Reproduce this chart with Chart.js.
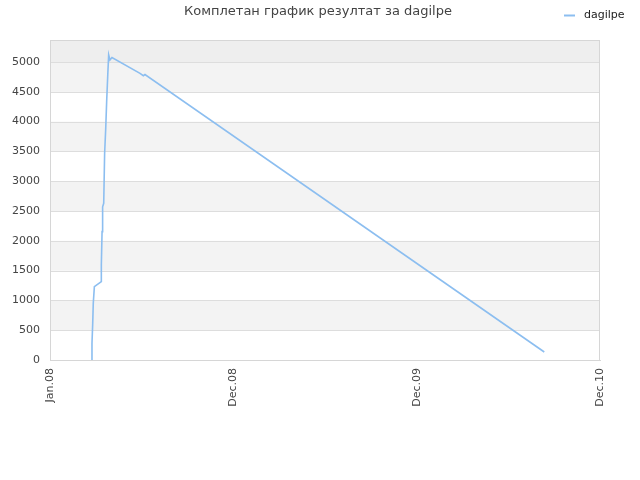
<!DOCTYPE html>
<html>
<head>
<meta charset="utf-8">
<script src="https://cdn.jsdelivr.net/npm/chart.js@4.4.1/dist/chart.umd.min.js"></script>
<style>
  html, body { margin: 0; padding: 0; background: #fff; }
  #wrap { width: 640px; height: 480px; }
</style>
</head>
<body>
<div id="wrap"><canvas id="chart" width="640" height="480"></canvas></div>
<script>
const chartTitle = 'Комплетан график резултат за dagilpe';
const seriesName = 'dagilpe';
const xTickLabels = ['Jan.08', 'Dec.08', 'Dec.09', 'Dec.10'];

// x is position along the date axis, 0 = Jan.08 ... 3 = Dec.10
const xValues = [0.229, 0.229, 0.233, 0.236, 0.242, 0.245, 0.280, 0.280, 0.284, 0.287, 0.293,
                 0.298, 0.304, 0.309, 0.315, 0.320, 0.327, 0.338, 0.491, 0.509, 0.518, 2.696];
const scores = [0, 280, 615, 950, 1230, 1230, 1315, 1595, 2155, 2570, 2630,
                3470, 3890, 4335, 4780, 5120, 5035, 5075, 4810, 4770, 4790, 134];

const lineColor = 'rgba(140, 190, 240, 1)';
const font = 'DejaVu Sans';

const points = xValues.map((x, i) => ({ x, y: scores[i] }));

const bands = {
    id: 'bands',
    beforeDatasetsDraw(chart) {
        const { ctx, chartArea: a, scales: { y } } = chart;
        ctx.save();
        ctx.fillStyle = '#fff';
        ctx.fillRect(a.left, a.top, a.width, a.height);
        for (let v = 0; v < 5000; v += 500) {
            if ((v / 500) % 2 === 1) {
                const top = y.getPixelForValue(v + 500);
                const bot = y.getPixelForValue(v);
                ctx.fillStyle = '#f3f3f3';
                ctx.fillRect(a.left, top, a.width, bot - top);
            }
        }
        const t5 = y.getPixelForValue(5000);
        ctx.fillStyle = '#eeeeee';
        ctx.fillRect(a.left, a.top, a.width, t5 - a.top);
        // grid lines
        ctx.strokeStyle = '#dddddd';
        ctx.lineWidth = 1;
        for (let v = 500; v <= 5000; v += 500) {
            const p = Math.round(y.getPixelForValue(v)) + 0.5;
            ctx.beginPath();
            ctx.moveTo(a.left, p);
            ctx.lineTo(a.right, p);
            ctx.stroke();
        }
        ctx.strokeStyle = '#d6d6d6';
        ctx.strokeRect(a.left + 0.5, a.top + 0.5, a.width - 1, a.height);
        ctx.restore();
    },
    afterDraw(chart) {
        const { ctx } = chart;
        ctx.save();
        ctx.font = '13px "' + font + '"';
        ctx.fillStyle = '#444';
        ctx.textAlign = 'center';
        ctx.textBaseline = 'middle';
        ctx.fillText(chartTitle, 318, 12);
        ctx.strokeStyle = lineColor;
        ctx.lineWidth = 2;
        ctx.beginPath();
        ctx.moveTo(564, 15.5);
        ctx.lineTo(575, 15.5);
        ctx.stroke();
        ctx.font = '11px "' + font + '"';
        ctx.fillStyle = '#222';
        ctx.textAlign = 'left';
        ctx.fillText(seriesName, 584, 15);
        ctx.restore();
    }
};

new Chart(document.getElementById('chart'), {
    type: 'line',
    data: {
        datasets: [{
            label: seriesName,
            data: points,
            borderColor: lineColor,
            borderWidth: 1.6,
            pointRadius: 0,
            fill: false,
            tension: 0
        }]
    },
    options: {
        responsive: false,
        animation: false,
        layout: { padding: { top: 40, left: 0, right: 40, bottom: 0 } },
        plugins: {
            legend: { display: false },
            title: { display: false },
            tooltip: { enabled: false }
        },
        scales: {
            x: {
                type: 'linear',
                min: 0,
                max: 3,
                afterFit(s) { s.height = 120; },
                grid: { display: false, drawTicks: false },
                border: { display: true, color: '#d6d6d6' },
                ticks: {
                    stepSize: 1,
                    maxRotation: 90,
                    minRotation: 90,
                    padding: 8,
                    color: '#444',
                    font: { family: font, size: 11 },
                    callback: (v) => xTickLabels[v]
                }
            },
            y: {
                min: 0,
                max: 5370,
                bounds: 'data',
                afterFit(s) { s.width = 50; },
                afterBuildTicks(s) { s.ticks = s.ticks.filter(t => t.value % 500 === 0); },
                grid: { display: false, drawTicks: false },
                border: { display: false },
                ticks: {
                    maxTicksLimit: 12,
                    includeBounds: false,
                    padding: 10,
                    color: '#444',
                    font: { family: font, size: 11 },
                    callback: (v) => String(v)
                }
            }
        }
    },
    plugins: [bands]
});
</script>
</body>
</html>
